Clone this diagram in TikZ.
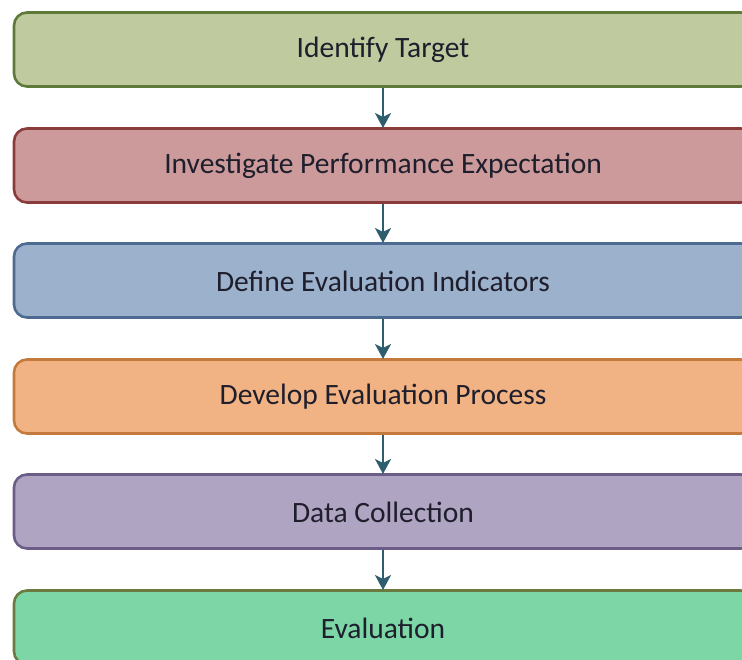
\documentclass[tikz,border=0pt]{standalone}
\usepackage{fontspec}
\setmainfont{Carlito}
\usetikzlibrary{arrows.meta}
\definecolor{gfill}{HTML}{BFCA9E}\definecolor{gline}{HTML}{5F7A38}
\definecolor{rfill}{HTML}{CC9A9A}\definecolor{rline}{HTML}{8A3C3C}
\definecolor{bfill}{HTML}{9CB1CC}\definecolor{bline}{HTML}{4D6B90}
\definecolor{ofill}{HTML}{F1B384}\definecolor{oline}{HTML}{C47A3C}
\definecolor{pfill}{HTML}{AFA4C1}\definecolor{pline}{HTML}{6C5D88}
\definecolor{efill}{HTML}{7DD6A6}\definecolor{eline}{HTML}{6A7A40}
\definecolor{arr}{HTML}{2E5E6E}
\definecolor{txt}{HTML}{1E1E2C}
\begin{document}
\begin{tikzpicture}[x=1pt,y=-1pt,
  stage/.style={draw, line width=2.6pt, rounded corners=13pt, minimum width=740pt, minimum height=74pt,
    inner sep=0pt},
  lbl/.style={font=\fontsize{29.5}{34}\selectfont, text=txt, inner sep=0pt},
  conn/.style={arr, line width=2.8pt, -{Stealth[length=15pt,width=16pt,inset=4pt]}}]
\useasboundingbox (0,0) rectangle (742,659);
\begin{scope}
\clip (0,0) rectangle (742,659);
\node[stage, fill=gfill, draw=gline] (n1) at (384,49.5) {};
\node[stage, fill=rfill, draw=rline] (n2) at (384,165.5) {};
\node[stage, fill=bfill, draw=bline] (n3) at (384,280.5) {};
\node[stage, fill=ofill, draw=oline] (n4) at (384,396.5) {};
\node[stage, fill=pfill, draw=pline] (n5) at (384,511.5) {};
\node[stage, fill=efill, draw=eline] (n6) at (384,627.5) {};
\end{scope}
\node[lbl] (t1) at (383,50) {Identify Target};
\node[lbl] (t2) at (383,166) {Investigate Performance Expectation};
\node[lbl] (t3) at (383,281) {Define Evaluation Indicators};
\node[lbl] (t4) at (383,397) {Develop Evaluation Process};
\node[lbl] (t5) at (383,512) {Data Collection};
\node[lbl] (t6) at (383,628) {Evaluation};
\coordinate (a1) at (383,87.5); \coordinate (b1) at (383,128);
\coordinate (a2) at (383,203.5); \coordinate (b2) at (383,243);
\coordinate (a3) at (383,318.5); \coordinate (b3) at (383,359);
\coordinate (a4) at (383,434.5); \coordinate (b4) at (383,474);
\coordinate (a5) at (383,549.5); \coordinate (b5) at (383,590);
\draw[conn] (a1) -- (b1);
\draw[conn] (a2) -- (b2);
\draw[conn] (a3) -- (b3);
\draw[conn] (a4) -- (b4);
\draw[conn] (a5) -- (b5);
\end{tikzpicture}
\end{document}
